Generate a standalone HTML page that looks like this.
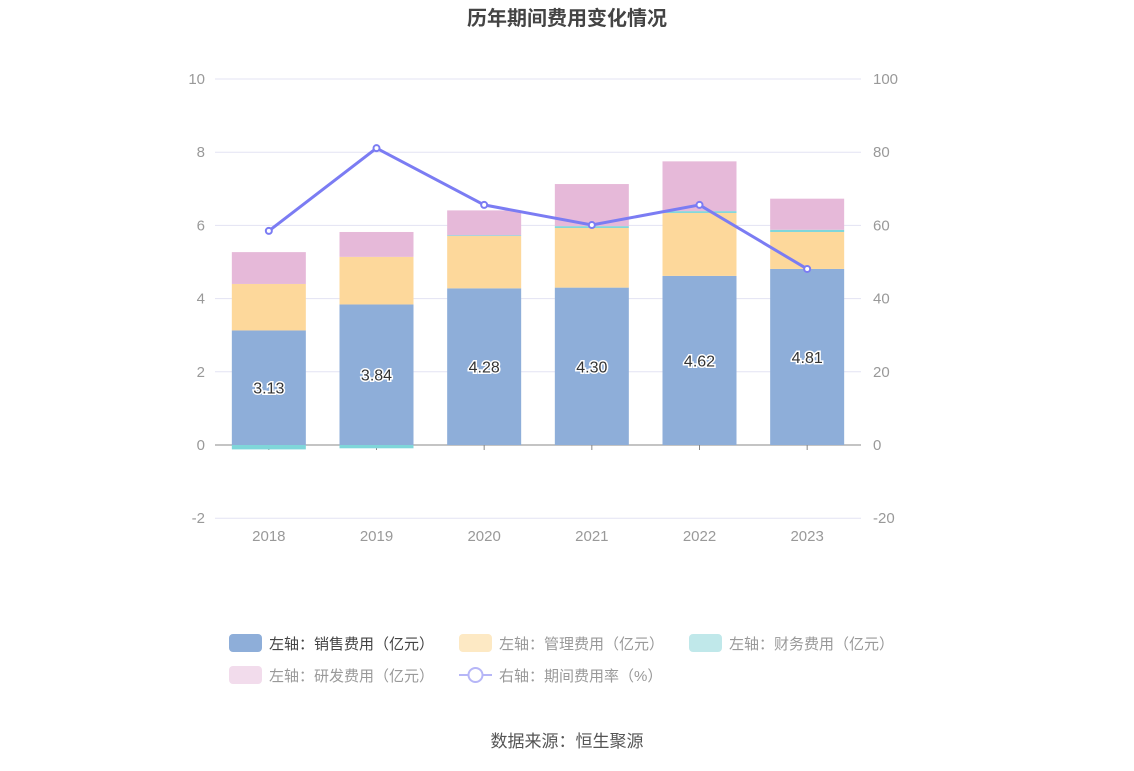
<!DOCTYPE html>
<html><head><meta charset="utf-8"><style>
body{margin:0;background:#fff;font-family:"Liberation Sans","Noto Sans CJK SC",sans-serif}
svg text{font-family:"Liberation Sans","Noto Sans CJK SC",sans-serif}
</style></head><body>
<svg id="c" width="1134" height="766">
<text x="567" y="25" text-anchor="middle" font-size="20" font-weight="bold" fill="#444">历年期间费用变化情况</text>
<g id="grid"></g><g id="bars"></g><g id="line"></g>
<g font-size="15" fill="#666">
<g><rect x="229" y="634" width="33" height="18" rx="4" fill="#8eaed9"/><text x="269" y="649" fill="#444">左轴：销售费用（亿元）</text></g>
<g><rect x="459" y="634" width="33" height="18" rx="4" fill="#fde9c4"/><text x="499" y="649" fill="#999">左轴：管理费用（亿元）</text></g>
<g><rect x="689" y="634" width="33" height="18" rx="4" fill="#c0e8ea"/><text x="729" y="649" fill="#999">左轴：财务费用（亿元）</text></g>
<g><rect x="229" y="666" width="33" height="18" rx="4" fill="#f2dcec"/><text x="269" y="681" fill="#999">左轴：研发费用（亿元）</text></g>
<g><line x1="459" y1="675" x2="492" y2="675" stroke="#b6b6f7" stroke-width="2"/><circle cx="475.5" cy="675" r="7" fill="#fff" stroke="#b6b6f7" stroke-width="2"/><text x="499" y="681" fill="#999">右轴：期间费用率（%）</text></g>
</g>
<text x="567" y="747" text-anchor="middle" font-size="17" fill="#555">数据来源：恒生聚源</text>
</svg>
<script>
const categories=["2018","2019","2020","2021","2022","2023"];
const sales=[3.13,3.84,4.28,4.30,4.62,4.81];
const admin=[1.27,1.30,1.43,1.63,1.72,1.01];
const finance=[-0.12,-0.09,0.02,0.05,0.05,0.06];
const rd=[0.87,0.68,0.68,1.15,1.36,0.85];
const rate=[58.5,81.1,65.6,60.1,65.6,48.1];
const leftTicks=[-2,0,2,4,6,8,10];
const rightTicks=[-20,0,20,40,60,80,100];
const NS="http://www.w3.org/2000/svg";
const x0=215,x1=861,bw=74;
const yL=v=>445-v*36.6;
const yR=v=>445-v*3.66;
const xC=i=>x0+(x1-x0)/categories.length*(i+0.5);
function mk(tag,attrs,parent){const e=document.createElementNS(NS,tag);for(const k in attrs)e.setAttribute(k,attrs[k]);document.getElementById(parent).appendChild(e);return e;}
leftTicks.forEach((t,i)=>{
 const g=mk('line',{x1:x0,x2:x1,y1:yL(t),y2:yL(t),stroke:t===0?'#888':'#e3e3f3','stroke-width':1},'grid');
 
 
 const a=mk('text',{x:205,y:yL(t)+5,'text-anchor':'end','font-size':15,fill:'#999'},'grid');a.textContent=t;
 
 
 const b=mk('text',{x:873,y:yL(t)+5,'font-size':15,fill:'#999'},'grid');b.textContent=rightTicks[i];
 
 
});
categories.forEach((c,i)=>{
 const t=mk('text',{x:xC(i),y:541,'text-anchor':'middle','font-size':15,fill:'#999'},'grid');t.textContent=c;
 
 
 mk('line',{x1:xC(i),x2:xC(i),y1:445,y2:450,stroke:'#888'},'grid');
 let pos=0,neg=0;
 const series=[[sales,'#8eaed9'],[admin,'#fdd89b'],[finance,'#7fd6d9'],[rd,'#e6b9d9']];
 series.forEach(([arr,col],k)=>{
  const v=arr[i];let y,h;
  if(v>=0){y=yL(pos+v);h=yL(pos)-y;pos+=v;}else{y=yL(neg);h=yL(neg+v)-y;neg+=v;}
  const r=mk('rect',{x:xC(i)-bw/2,y:y,width:bw,height:Math.max(h,0),fill:col},'bars');
  
  
 });
 const l=mk('text',{x:xC(i),y:yL(sales[i]/2)+6,'text-anchor':'middle','font-size':16,fill:'#333',stroke:'#fff','stroke-width':3,'paint-order':'stroke'},'bars');l.textContent=sales[i].toFixed(2);
 
 
});
const p=mk('polyline',{points:rate.map((v,i)=>xC(i)+','+yR(v)).join(' '),fill:'none',stroke:'#7b7cf3','stroke-width':3},'line');


rate.forEach((v,i)=>{const d=mk('circle',{cx:xC(i),cy:yR(v),r:3,fill:'#fff',stroke:'#7b7cf3','stroke-width':2},'line');
 
 });
</script>
</body></html>
